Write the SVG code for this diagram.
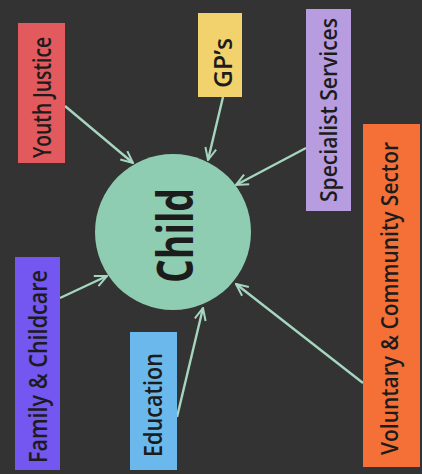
<svg xmlns="http://www.w3.org/2000/svg" width="422" height="474" viewBox="0 0 422 474">
<style>
.lbl{font-family:"Open Sans","Liberation Sans",sans-serif;font-weight:600;fill:#1c1c1c;text-anchor:middle}
.con{stroke:#a6d6bf;stroke-width:2.4;fill:none}
</style>
<defs>
<marker id="arr" viewBox="0 0 14 14" refX="13" refY="7" markerWidth="14" markerHeight="14" markerUnits="userSpaceOnUse" orient="auto">
<polyline points="1,1.5 13,7 1,12.5" fill="none" stroke="#a6d6bf" stroke-width="2"/>
</marker>
</defs>
<rect width="422" height="474" fill="#333333"/>
<g id="connectors">
<line class="con" x1="65" y1="106" x2="133" y2="163" marker-end="url(#arr)"/>
<line class="con" x1="223" y1="97" x2="208" y2="160" marker-end="url(#arr)"/>
<line class="con" x1="306" y1="148" x2="236" y2="185" marker-end="url(#arr)"/>
<line class="con" x1="363" y1="383" x2="236" y2="284" marker-end="url(#arr)"/>
<line class="con" x1="60" y1="298" x2="107" y2="276" marker-end="url(#arr)"/>
<line class="con" x1="177" y1="417" x2="203" y2="308" marker-end="url(#arr)"/>
</g>
<g id="child">
<circle cx="173" cy="232" r="78" fill="#8ecdb1"/>
<text class="lbl" style="font-weight:700" transform="translate(193,235.5) rotate(-90)" font-size="50" textLength="95" lengthAdjust="spacingAndGlyphs">Child</text>
</g>
<g id="youth-justice">
<rect x="18" y="23" width="47" height="140" fill="#e25a5d"/>
<text class="lbl" transform="translate(51,97.5) rotate(-90)" font-size="25" textLength="121" lengthAdjust="spacingAndGlyphs">Youth Justice</text>
</g>
<g id="gps">
<rect x="198" y="13" width="44" height="84" fill="#f2d26c"/>
<text class="lbl" transform="translate(232,63) rotate(-90)" font-size="25" textLength="50" lengthAdjust="spacingAndGlyphs">GP’s</text>
</g>
<g id="specialist-services">
<rect x="306" y="9" width="45" height="202" fill="#b79ce0"/>
<text class="lbl" transform="translate(337,110) rotate(-90)" font-size="24" textLength="184" lengthAdjust="spacingAndGlyphs">Specialist Services</text>
</g>
<g id="voluntary-community-sector">
<rect x="363" y="124" width="57" height="343" fill="#f57036"/>
<text class="lbl" transform="translate(398,298.5) rotate(-90)" font-size="23" textLength="313" lengthAdjust="spacingAndGlyphs">Voluntary &amp; Community Sector</text>
</g>
<g id="family-childcare">
<rect x="15" y="257" width="45" height="213" fill="#7456f0"/>
<text class="lbl" transform="translate(47,366.5) rotate(-90)" font-size="25" textLength="193" lengthAdjust="spacingAndGlyphs">Family &amp; Childcare</text>
</g>
<g id="education">
<rect x="130" y="332" width="47" height="138" fill="#6bb9ec"/>
<text class="lbl" transform="translate(162,405) rotate(-90)" font-size="25" textLength="104" lengthAdjust="spacingAndGlyphs">Education</text>
</g>
</svg>
